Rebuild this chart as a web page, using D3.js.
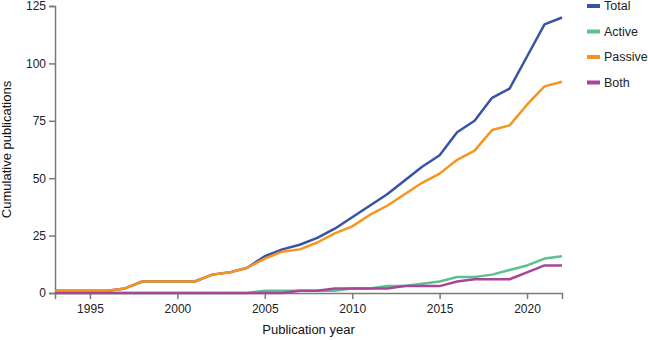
<!DOCTYPE html>
<meta charset="utf-8">
<head>
    <meta charset="utf-8">
    <title>Cumulative publications</title>
    <script type="text/javascript" src="https://d3js.org/d3.v7.min.js"></script>
</head>

<style type="text/css">
    body {
        margin: 0;
        background-color: #ffffff;
    }

    svg {
        display: block;
        font-family: "Liberation Sans", Arial, Helvetica, sans-serif;
    }

    .axis path,
    .axis line {
        stroke: #7a7a7a;
        stroke-width: 1.5px;
    }

    .axis text {
        font-size: 12px;
        fill: #222;
    }

    .label {
        font-size: 13px;
        fill: #111;
    }
</style>

<body>
    <div id="my_dataviz"></div>

    <script>
        // data
        const years = d3.range(1993, 2023);
        const total = [1, 1, 1, 1, 2, 5, 5, 5, 5, 8, 9, 11, 16, 19, 21, 24, 28, 33, 38, 43, 49, 55, 60, 70, 75, 85, 89, 103, 117, 120];
        const active = [0, 0, 0, 0, 0, 0, 0, 0, 0, 0, 0, 0, 1, 1, 1, 1, 1, 2, 2, 3, 3, 4, 5, 7, 7, 8, 10, 12, 15, 16];
        const passive = [1, 1, 1, 1, 2, 5, 5, 5, 5, 8, 9, 11, 15, 18, 19, 22, 26, 29, 34, 38, 43, 48, 52, 58, 62, 71, 73, 82, 90, 92];
        const both = [0, 0, 0, 0, 0, 0, 0, 0, 0, 0, 0, 0, 0, 0, 1, 1, 2, 2, 2, 2, 3, 3, 3, 5, 6, 6, 6, 9, 12, 12];
        const xTicks = [1995, 2000, 2005, 2010, 2015, 2020];
        const yTicks = [0, 25, 50, 75, 100, 125];

        const series = [
            { name: "Total", values: total, color: "#3953a4" },
            { name: "Active", values: active, color: "#5cc08f" },
            { name: "Passive", values: passive, color: "#f7941e" },
            { name: "Both", values: both, color: "#a8449a" }
        ];

        const W = 648, H = 340;
        const margin = { top: 6, right: 86, bottom: 47, left: 55 },
            width = W - margin.left - margin.right,
            height = H - margin.top - margin.bottom;

        const svg = d3.select("#my_dataviz")
            .append("svg")
            .attr("width", W)
            .attr("height", H);

        const g = svg.append("g")
            .attr("transform", `translate(${margin.left},${margin.top})`);

        const x = d3.scaleLinear()
            .domain([1993, 2022])
            .range([0, width]);

        const y = d3.scaleLinear()
            .domain([0, 125])
            .range([height, 0]);

        // X axis
        g.append("g")
            .attr("class", "axis")
            .attr("transform", `translate(0,${height})`)
            .call(d3.axisBottom(x).tickValues(xTicks).tickFormat(d3.format("d")).tickSizeOuter(0).tickSize(6).tickPadding(5));

        // Y axis
        g.append("g")
            .attr("class", "axis")
            .call(d3.axisLeft(y).tickValues(yTicks).tickSizeOuter(0).tickSize(6).tickPadding(3));

        // axis titles
        svg.append("text")
            .attr("class", "label")
            .attr("x", margin.left + width / 2)
            .attr("y", 334)
            .attr("text-anchor", "middle")
            .text("Publication year");

        svg.append("text")
            .attr("class", "label")
            .attr("transform", `translate(11,${margin.top + height / 2}) rotate(-90)`)
            .attr("text-anchor", "middle")
            .text("Cumulative publications");

        // lines
        const line = d3.line()
            .x((d, i) => x(years[i]))
            .y(d => y(d));

        g.append("g")
            .selectAll("path")
            .data(series)
            .join("path")
            .attr("fill", "none")
            .attr("stroke", d => d.color)
            .attr("stroke-width", 2.5)
            .attr("stroke-linejoin", "round")
            .attr("d", d => line(d.values));

        // legend
        const legend = svg.append("g")
            .attr("transform", "translate(587,6)");

        const item = legend.selectAll("g")
            .data(series)
            .join("g")
            .attr("transform", (d, i) => `translate(0,${i * 25.5})`);

        item.append("rect")
            .attr("x", 0)
            .attr("y", -2)
            .attr("width", 13)
            .attr("height", 4)
            .attr("fill", d => d.color);

        item.append("text")
            .attr("x", 17)
            .attr("y", 0)
            .attr("dy", "0.35em")
            .style("font-size", "12.5px")
            .attr("fill", "#222")
            .text(d => d.name);
    </script>
</body>
</html>
